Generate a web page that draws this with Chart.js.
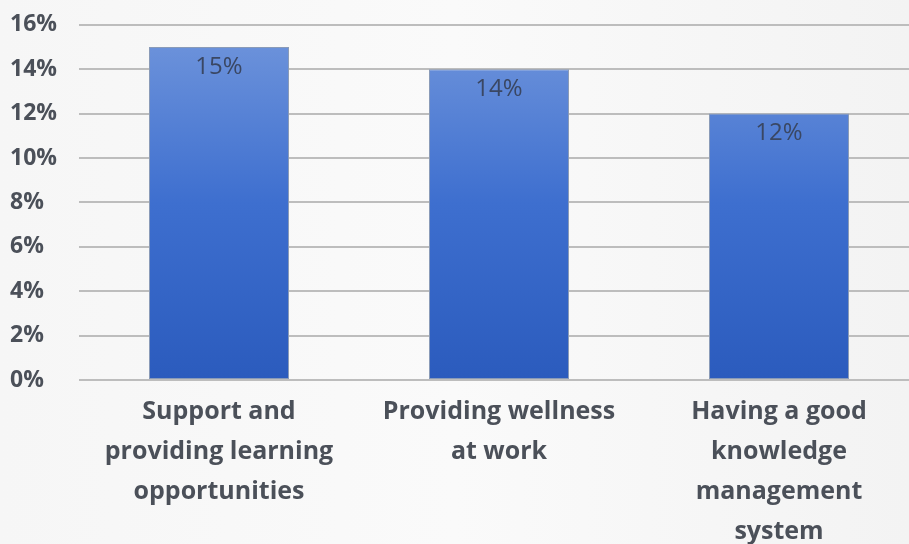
<!DOCTYPE html>
<html>
<head>
<meta charset="utf-8">
<script src="https://cdn.jsdelivr.net/npm/chart.js@4.4.1/dist/chart.umd.min.js"></script>
<style>
  html, body { margin: 0; padding: 0; overflow: hidden; }
  body { width: 909px; height: 544px; background: linear-gradient(90deg, #f6f6f6, #fafafa 50%, #f3f3f3); }
  #wrap { width: 919px; height: 569px; margin-top: -5px; position: relative; }
</style>
</head>
<body>
<div id="wrap"><canvas id="chart"></canvas></div>
<script>
const categories = [
    ['Support and', 'providing learning', 'opportunities'],
    ['Providing wellness', 'at work'],
    ['Having a good', 'knowledge', 'management', 'system']
];
const values = [15, 14, 12];
const yTicks = [0, 2, 4, 6, 8, 10, 12, 14, 16];

const textColor = '#4b5059';
const fontFamily = '"Open Sans", sans-serif';

// value labels near the top of each bar
const barLabels = {
    id: 'barLabels',
    afterDatasetsDraw(chart) {
        const ctx = chart.ctx;
        const meta = chart.getDatasetMeta(0);
        ctx.save();
        ctx.font = '24px ' + fontFamily;
        ctx.fillStyle = '#3a4763';
        ctx.textAlign = 'center';
        ctx.textBaseline = 'middle';
        meta.data.forEach((bar, i) => {
            ctx.fillText(values[i] + '%', bar.x, bar.y + 20);
        });
        ctx.restore();
    }
};

const ctx = document.getElementById('chart');

new Chart(ctx, {
    type: 'bar',
    data: {
        labels: categories,
        datasets: [{
            data: values,
            backgroundColor: (c) => {
                const area = c.chart.chartArea;
                if (!area) return '#3b6cc9';
                const g = c.chart.ctx.createLinearGradient(0, area.top, 0, area.bottom);
                g.addColorStop(0, '#7196dc');
                g.addColorStop(0.5, '#3e6fcf');
                g.addColorStop(1, '#2b5bbd');
                return g;
            },
            borderColor: '#8a9bb8',
            borderWidth: 1,
            borderSkipped: false,
            barPercentage: 0.5,
            categoryPercentage: 1
        }]
    },
    options: {
        responsive: true,
        maintainAspectRatio: false,
        animation: false,
        layout: { padding: { top: 6, left: 10, right: 0, bottom: 0 } },
        plugins: {
            legend: { display: false },
            tooltip: { enabled: false }
        },
        scales: {
            x: {
                grid: { display: false, drawTicks: false },
                border: { display: false },
                ticks: {
                    color: textColor,
                    font: { family: fontFamily, size: 25, weight: 'bold', lineHeight: 40 / 25 },
                    padding: 12,
                    maxRotation: 0
                }
            },
            y: {
                min: 0,
                max: 16,
                afterBuildTicks: (axis) => {
                    axis.ticks = yTicks.map(v => ({ value: v }));
                },
                afterFit: (axis) => { axis.width = 69; },
                grid: { color: '#bdbdbd', lineWidth: 2, drawTicks: false },
                border: { display: false },
                ticks: {
                    color: textColor,
                    font: { family: fontFamily, size: 23, weight: 'bold' },
                    crossAlign: 'far',
                    padding: 16,
                    callback: (v) => v + '%'
                }
            }
        }
    },
    plugins: [barLabels]
});
</script>
</body>
</html>
